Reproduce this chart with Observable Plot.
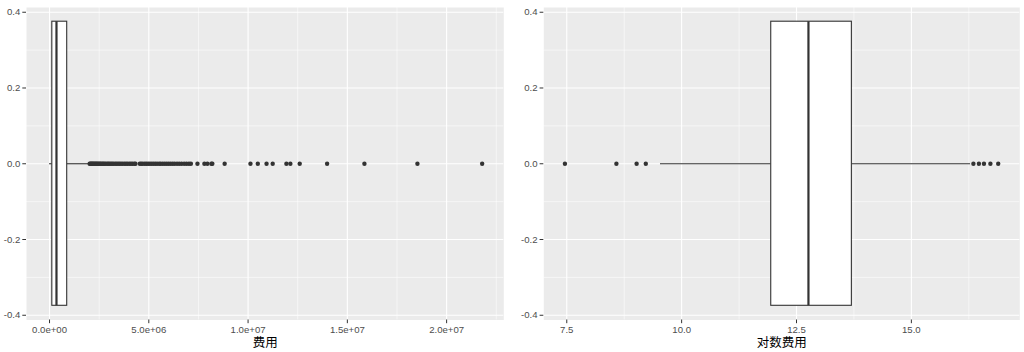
<!DOCTYPE html>
<html>
<head>
<meta charset="utf-8">
<script src="https://cdn.jsdelivr.net/npm/d3@7"></script>
<script src="https://cdn.jsdelivr.net/npm/@observablehq/plot@0.6"></script>
<style>
  html, body { margin: 0; padding: 0; background: #fff; }
  #wrap { display: flex; width: 1024px; height: 352px; }
</style>
</head>
<body>
<div id="wrap"></div>
<script>
// ---- Left panel: 费用 (raw cost) ----
const costTicks = [0, 5e6, 1e7, 1.5e7, 2e7];
const costTickLabels = ["0.0e+00", "5.0e+06", "1.0e+07", "1.5e+07", "2.0e+07"];
const costMinor = [2.5e6, 7.5e6, 1.25e7, 1.75e7, 2.25e7];
const costDomain = [-1.16e6, 22.88e6];
const costWhiskerLo = 0.0017e6;
const costQ1 = 0.14e6;
const costMedian = 0.35e6;
const costQ3 = 0.89e6;
const costWhiskerHi = 1.99e6;
const costOutliers = [
  2.02, 2.06, 2.10, 2.14, 2.18, 2.22, 2.27, 2.31, 2.36, 2.40, 2.45, 2.50, 2.55, 2.60,
  2.66, 2.71, 2.77, 2.83, 2.90, 2.96, 3.02, 3.09, 3.15, 3.22, 3.30, 3.37, 3.45, 3.52,
  3.60, 3.68, 3.77, 3.85, 3.93, 4.02, 4.10, 4.18, 4.27, 4.33,
  4.55, 4.62, 4.70, 4.80, 4.88, 4.97, 5.06, 5.15, 5.24, 5.33, 5.42, 5.52, 5.60, 5.70,
  5.80, 5.90, 6.00, 6.10, 6.20, 6.30, 6.42, 6.53, 6.65, 6.78, 6.90, 7.02, 7.12,
  7.45, 7.80, 7.95, 8.15, 8.20, 8.82, 10.12, 10.49, 10.93, 11.24, 11.93, 12.13,
  12.60, 13.98, 15.86, 18.53, 21.79
].map(v => v * 1e6);

// ---- Right panel: 对数费用 (log cost) ----
const logTicks = [7.5, 10, 12.5, 15];
const logTickLabels = ["7.5", "10.0", "12.5", "15.0"];
const logMinor = [8.75, 11.25, 13.75, 16.25];
const logDomain = [7.0, 17.36];
const logWhiskerLo = 9.54;
const logQ1 = 11.95;
const logMedian = 12.76;
const logQ3 = 13.705;
const logWhiskerHi = 16.29;
const logOutliers = [7.46, 8.58, 9.02, 9.22, 16.35, 16.47, 16.58, 16.72, 16.89];

// ---- Shared y axis ----
const yTicks = [-0.4, -0.2, 0, 0.2, 0.4];
const yTickLabels = ["-0.4", "-0.2", "0.0", "0.2", "0.4"];
const yMinor = [-0.3, -0.1, 0.1, 0.3];

const FONT = "'Liberation Sans', 'Noto Sans CJK SC', Arial, sans-serif";
const INK = "#333333";

function panel({title, ticks, labels, minor, domain, wLo, q1, med, q3, wHi, outliers, marginLeft, marginRight}) {
  const xLab = new Map(ticks.map((t, i) => [t, labels[i]]));
  const yLab = new Map(yTicks.map((t, i) => [t, yTickLabels[i]]));
  const half = 0.375;
  return Plot.plot({
    width: 512,
    height: 352,
    marginTop: 7,
    marginBottom: 32.5,
    marginLeft,
    marginRight,
    style: {fontFamily: FONT, background: "#ffffff"},
    x: {domain, label: null},
    y: {domain: [-0.4125, 0.4125], label: null},
    marks: [
      Plot.frame({fill: "#EBEBEB", stroke: null}),
      Plot.ruleX(minor, {stroke: "#ffffff", strokeWidth: 0.55}),
      Plot.ruleY(yMinor, {stroke: "#ffffff", strokeWidth: 0.55}),
      Plot.ruleX(ticks, {stroke: "#ffffff", strokeWidth: 1.1}),
      Plot.ruleY(yTicks, {stroke: "#ffffff", strokeWidth: 1.1}),
      Plot.ruleY([0], {x1: wLo, x2: q1, stroke: INK, strokeWidth: 1.1}),
      Plot.ruleY([0], {x1: q3, x2: wHi, stroke: INK, strokeWidth: 1.1}),
      Plot.rect([{q1, q3}], {x1: "q1", x2: "q3", y1: -half, y2: half, fill: "#ffffff", stroke: INK, strokeWidth: 1.1}),
      Plot.ruleX([med], {y1: -half, y2: half, stroke: INK, strokeWidth: 2.2}),
      Plot.dot(outliers, {x: d => d, y: () => 0, r: 2.2, fill: INK, stroke: null}),
      Plot.axisX({ticks, tickFormat: d => xLab.get(d), tickSize: 3.7, tickPadding: 2.5,
        fontSize: 9.6, stroke: INK, fill: "#4D4D4D", label: null}),
      Plot.axisY({ticks: yTicks, tickFormat: d => yLab.get(d), tickSize: 3.7, tickPadding: 2.5,
        fontSize: 9.6, stroke: INK, fill: "#4D4D4D", label: null}),
      Plot.text([title], {frameAnchor: "bottom", lineAnchor: "middle", dy: 22.5, fontSize: 12.5, fill: "#000000", text: d => d})
    ]
  });
}

const wrap = document.getElementById("wrap");
wrap.appendChild(panel({
  title: "费用", ticks: costTicks, labels: costTickLabels, minor: costMinor, domain: costDomain,
  wLo: costWhiskerLo, q1: costQ1, med: costMedian, q3: costQ3, wHi: costWhiskerHi,
  outliers: costOutliers, marginLeft: 26, marginRight: 8.7
}));
wrap.appendChild(panel({
  title: "对数费用", ticks: logTicks, labels: logTickLabels, minor: logMinor, domain: logDomain,
  wLo: logWhiskerLo, q1: logQ1, med: logMedian, q3: logQ3, wHi: logWhiskerHi,
  outliers: logOutliers, marginLeft: 31.3, marginRight: 4.7
}));
</script>
</body>
</html>
